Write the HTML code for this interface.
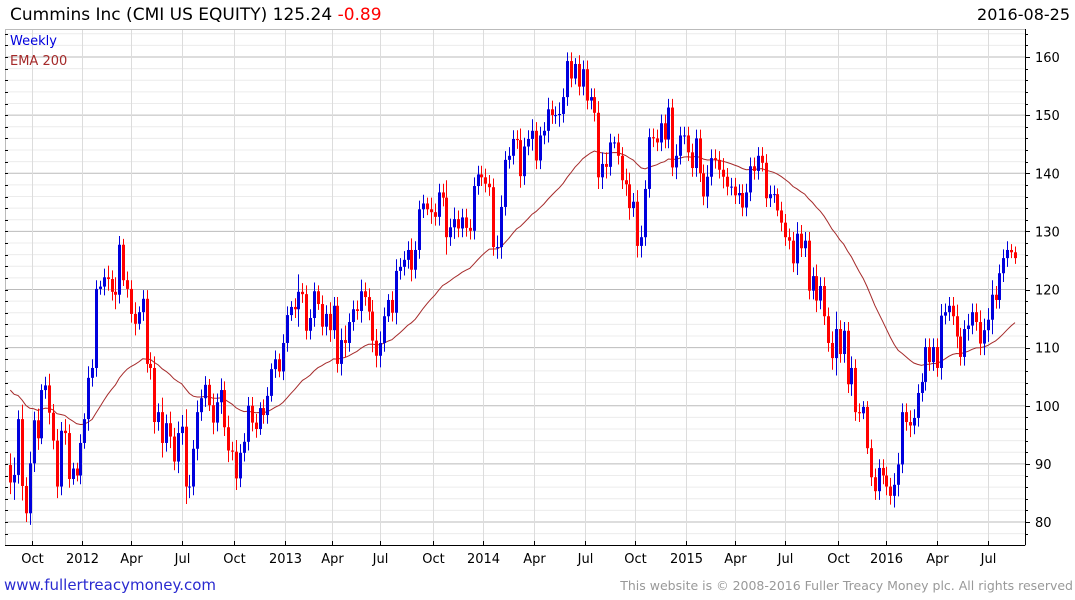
<!DOCTYPE html>
<html><head><meta charset="utf-8"><style>
body{margin:0;background:#fff;width:1075px;height:600px;overflow:hidden;font-family:"DejaVu Sans","Liberation Sans",sans-serif}
svg{position:absolute;left:0;top:0;font-family:"DejaVu Sans","Liberation Sans",sans-serif}
</style></head><body>
<svg id="chart" width="1075" height="600"></svg>
<script>
const closes=[86.8,88.1,97.7,86.2,81.5,90.1,97.5,94.4,102.7,103.5,98.8,94.0,86.1,95.7,95.3,87.4,89.2,88.0,93.6,97.7,104.8,106.5,120.1,120.5,122.1,121.8,119.6,119.1,127.7,121.6,120.1,115.8,114.1,116.1,118.4,107.2,106.5,97.2,98.9,93.6,97.0,94.7,90.4,95.3,96.4,86.1,86.1,92.6,98.9,101.3,103.6,100.1,97.1,100.6,102.7,96.3,92.3,92.1,87.5,91.9,93.8,100.0,97.1,96.0,99.6,98.4,101.7,106.3,108.0,105.9,110.8,115.6,117.0,116.6,119.6,119.2,112.9,115.1,119.7,117.5,113.6,115.8,113.0,117.2,107.2,111.3,110.8,114.4,116.6,116.3,119.7,118.7,116.2,111.2,108.6,110.8,115.4,118.2,116.0,123.2,123.9,
125.1,126.8,123.4,126.8,133.8,134.8,133.8,133.3,132.5,136.7,135.8,129.0,130.7,132.1,130.5,132.4,130.6,130.1,137.8,139.8,139.3,138.2,137.6,127.3,127.3,134.2,142.3,143.0,145.9,145.7,139.5,144.6,145.9,147.3,142.2,146.5,147.3,151.0,150.0,150.0,150.2,153.1,159.3,156.3,158.8,154.9,157.9,152.5,153.1,150.4,139.3,141.6,141.1,145.3,145.3,143.0,138.8,138.1,134.0,135.1,127.5,129.0,137.3,146.2,146.0,145.3,148.6,145.8,151.3,141.0,143.0,146.5,146.5,143.6,140.9,146.0,140.0,136.0,139.4,142.6,142.3,140.6,139.4,137.7,137.7,136.2,136.6,134.1,136.7,141.2,140.4,143.0,141.8,135.7,136.4,136.4,133.6,
131.5,129.0,128.4,124.5,129.6,127.1,128.4,119.8,122.3,118.1,120.6,115.4,110.8,108.2,113.2,108.9,112.9,103.7,106.5,98.9,98.7,99.8,92.7,87.7,85.3,89.3,88.0,86.1,84.5,86.4,89.9,98.9,97.2,96.6,97.9,102.2,104.1,110.1,107.5,110.1,106.5,115.5,116.1,117.2,115.4,111.9,108.4,113.2,113.8,116.1,114.4,110.7,113.0,114.8,119.1,118.2,122.8,125.4,126.8,126.4,125.4];
const spreads=[2,3,1.5,2.5,1.5,2,1.5,2,1,1.5,2,1.5,2,1.5,2,1.5,1,1,1.5,1,2,1.5,1.5,1,1.5,2,1.5,2.5,1.5,1,1.5,1.5,2,1,1.5,1.5,2,2,1.5,2.5,1.5,2,1.5,2,2,3,2,1.5,2,1.5,1.5,1,2,1.5,2,1.5,2,1.5,2,1.5,1.5,1.5,1.5,1.5,1,1.5,1.5,1,1.5,1,1.5,1.5,1,1.5,3,1.5,1.5,1.5,1.5,1,1.5,1.5,2,1.5,1.5,2,2.5,1.5,1.5,1.5,2,1.5,1.5,2,2,2,1.5,1,1.5,2,1.5,
1.5,1.5,2,1.5,1.5,1.5,1,2,1.5,1.5,1.5,3,1.5,2,1.5,1.5,1.5,1.5,1.5,1.5,1.5,1.5,1.5,1.5,2,2,1.5,1.5,1.5,1.5,2,1.5,1.5,2,1.5,1.5,1.5,2,1.5,1.5,2,1.5,1.5,1.5,1,1.5,1.5,1.5,1.5,1.5,2,2,2,1.5,1,1.5,1.5,2,2,1.5,2,2,1.5,1.5,1.5,1.5,1.5,1.5,1.5,1.5,2,1.5,1.5,1.5,1.5,1.5,1.5,1.5,2,1.5,1.5,1.5,2,1.5,1.5,1.5,1.5,1.5,1.5,1.5,1.5,1.5,1.5,1.5,1.5,1.5,1,1.5,
1.5,1.5,1.5,2,1.5,1.5,1.5,1.5,2,1.5,1.5,1.5,2,3,1.5,1.5,1.5,2,1.5,1.5,1,1,1.5,1.5,1.5,1.5,1.5,1.5,2,2,1.5,1.5,2,1.5,1.5,1.5,1.5,1.5,1.5,1.5,2,1.5,1.5,1.5,2,1.5,1.5,2,1.5,1.5,2,2,2,2.5,1.5,1.5,1.5,1.5,1,1,1];
const firstOpen=89.8;
const emaStart=103.5;
const yTicks=[80,90,100,110,120,130,140,150,160];
const monthLabels=["Oct","2012","Apr","Jul","Oct","2013","Apr","Jul","Oct","2014","Apr","Jul","Oct","2015","Apr","Jul","Oct","2016","Apr","Jul"];
const monthWeek=[5.5,18.5,31,44,57.5,70.5,82.5,95,108.5,121.5,134.5,147.5,160.5,173.5,186,199,212.5,225,238,251];

const NS="http://www.w3.org/2000/svg";
const svg=document.getElementById('chart');
const L=5,R=1025,T=29,B=545;
const y=v=>522-(v-80)*5.8125;
const N=closes.length;
const x=i=>10.3+i*(1004.7/(N-1));
function el(tag,attrs,parent){const e=document.createElementNS(NS,tag);for(const k in attrs)e.setAttribute(k,attrs[k]);(parent||svg).appendChild(e);return e;}

const grid=el('g',{});


for(let v=76;v<=166;v+=2){const yy=y(v);if(yy<T||yy>B)continue;
 const major=v%10===0;
 el('line',{x1:L,x2:R,y1:yy,y2:yy,stroke:major?'#bbbbbb':'#ececec','stroke-width':1},grid);}
monthWeek.forEach(w=>{const xx=Math.round(x(w))+0.5;el('line',{x1:xx,x2:xx,y1:T,y2:B,stroke:'#dcdcdc'},grid);});
el('rect',{x:L+0.5,y:T+0.5,width:R-L,height:B-T,fill:'none',stroke:'#bbb'},grid);

const alpha=2/41;let e=emaStart;let pts=[];
closes.forEach((c,i)=>{e=e+alpha*(c-e);pts.push(x(i).toFixed(1)+','+y(e).toFixed(1));});
const ema=el('polyline',{points:pts.join(' '),fill:'none',stroke:'#a52a2a','stroke-width':1});



const cg=el('g',{});


closes.forEach((c,i)=>{
 const o=i===0?firstOpen:closes[i-1];
 const col=c>=o?'#0000dd':'#ff0000';
 const hi=Math.max(o,c)+spreads[i],lo=Math.min(o,c)-spreads[i];
 const xx=Math.round(x(i));
 const g=el('g',{},cg);
 
 
 el('line',{x1:xx+0.5,x2:xx+0.5,y1:y(hi),y2:y(lo),stroke:col,'stroke-width':1},g);
 const top=y(Math.max(o,c)),bot=y(Math.min(o,c));
 el('rect',{x:xx-1,y:top,width:3,height:Math.max(1,bot-top),fill:col},g);
});

const ax=el('g',{});


el('line',{x1:R+0.5,x2:R+0.5,y1:T,y2:B,stroke:'#000'},ax);
for(let v=76;v<=166;v+=2){const yy=Math.round(y(v))+0.5;if(yy<T||yy>B)continue;
 el('line',{x1:R,x2:R+(v%10===0?5:3),y1:yy,y2:yy,stroke:'#000'},ax);
 el('line',{x1:L,x2:L+3,y1:yy,y2:yy,stroke:'#000'},ax);}
yTicks.forEach(v=>{const t=el('text',{x:1035,y:y(v)+5,'font-size':13,fill:'#000'},ax);t.textContent=v;
 
 });
const xa=el('g',{});


el('line',{x1:L,x2:R,y1:B+0.5,y2:B+0.5,stroke:'#000'},xa);
monthWeek.forEach((w,k)=>{const xx=Math.round(x(w))+0.5;
 el('line',{x1:xx,x2:xx,y1:B,y2:B-4,stroke:'#000'},xa);
 const t=el('text',{x:xx,y:563,'font-size':13,'text-anchor':'middle',fill:'#000'},xa);t.textContent=monthLabels[k];
 
 });

function txt(s,a,name){const t=el('text',a);t.textContent=s;return t;}
const title=el('text',{x:10,y:20,'font-size':17,fill:'#000'});


title.innerHTML='Cummins Inc (CMI US EQUITY) 125.24 <tspan fill="#ff0000">-0.89</tspan>';
txt('2016-08-25',{x:1070,y:20,'font-size':16,'text-anchor':'end',fill:'#000'},'date-label');
txt('Weekly',{x:10,y:45,'font-size':13,fill:'#0000dd'},'legend-weekly');
txt('EMA 200',{x:10,y:65,'font-size':13,fill:'#a52a2a'},'legend-ema-200');
const link=txt('www.fullertreacymoney.com',{x:4,y:590,'font-size':15,fill:'#2a2ad0'},'website-link');

txt('This website is © 2008-2016 Fuller Treacy Money plc. All rights reserved',{x:1073,y:590,'font-size':12.5,'text-anchor':'end',fill:'#999'},'copyright-notice');
</script>
</body></html>
